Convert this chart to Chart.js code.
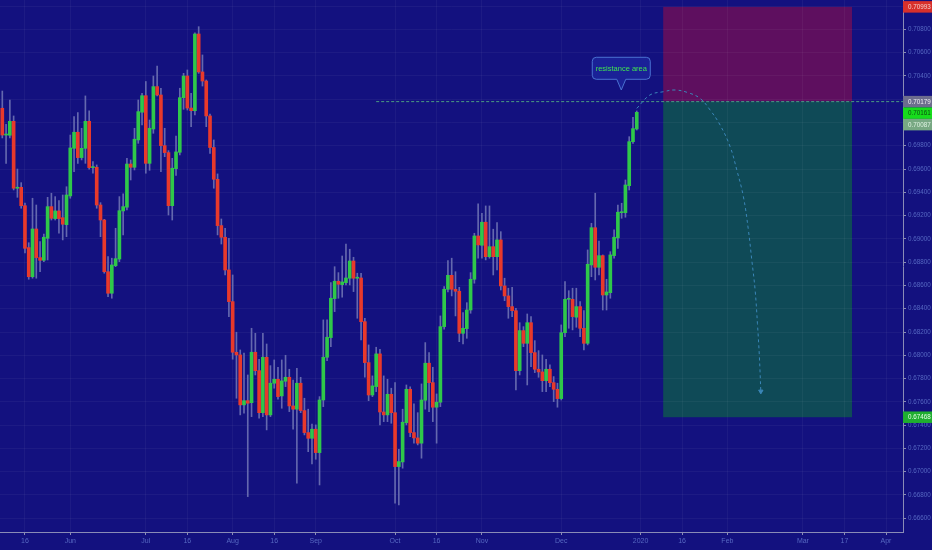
<!DOCTYPE html>
<html>
<head>
<meta charset="utf-8">
<script src="https://cdn.jsdelivr.net/npm/chart.js@4.4.1/dist/chart.umd.min.js"></script>
<style>
  html, body { margin: 0; padding: 0; background: #13117f; }
  #wrap { width: 932px; height: 550px; }
</style>
</head>
<body>
<div id="wrap"><canvas id="c" width="932" height="550"></canvas></div>
<script>
/* AUDUSD daily — candles + short setup, drawn on a linear bar-index axis (16 May 2019 = 0). */
const FIRST_BAR = -6;

const opens = [
  0.70122, 0.69892, 0.69890, 0.70010, 0.69435, 0.69443, 0.69285, 0.68925, 0.68675, 0.69085,
  0.68839, 0.68816, 0.69005, 0.69277, 0.69174, 0.69240, 0.69182, 0.69122, 0.69369, 0.69778,
  0.69916, 0.69698, 0.69778, 0.70010, 0.69612, 0.69615, 0.69291, 0.69162, 0.68718, 0.68533,
  0.68770, 0.68827, 0.69240, 0.69272, 0.69643, 0.69615, 0.69850, 0.70088, 0.70230, 0.69649,
  0.69944, 0.70308, 0.70236, 0.69801, 0.69741, 0.69285, 0.69603, 0.69744, 0.70213, 0.70399,
  0.70124, 0.70101, 0.70760, 0.70434, 0.70356, 0.70056, 0.69785, 0.69512, 0.69114, 0.69014,
  0.68733, 0.68461, 0.68026, 0.68003, 0.67574, 0.67610, 0.67593, 0.68026, 0.67868, 0.67507,
  0.67983, 0.67488, 0.67760, 0.67794, 0.67651, 0.67777, 0.67811, 0.67565, 0.67537, 0.67760,
  0.67525, 0.67336, 0.67287, 0.67365, 0.67164, 0.67616, 0.67983, 0.68152, 0.68487, 0.68636,
  0.68607, 0.68624, 0.68662, 0.68810, 0.68662, 0.68664, 0.68289, 0.67937, 0.67659, 0.67731,
  0.68012, 0.67513, 0.67488, 0.67665, 0.67507, 0.67044, 0.67084, 0.67421, 0.67708, 0.67336,
  0.67290, 0.67245, 0.67614, 0.67932, 0.67765, 0.67554, 0.67597, 0.68246, 0.68567, 0.68687,
  0.68567, 0.68550, 0.68189, 0.68229, 0.68389, 0.68653, 0.69025, 0.68945, 0.69143, 0.68847,
  0.68933, 0.68847, 0.68991, 0.68596, 0.68510, 0.68418, 0.68383, 0.67868, 0.68212, 0.68103,
  0.68280, 0.68023, 0.67880, 0.67857, 0.67782, 0.67880, 0.67765, 0.67708, 0.67628, 0.68194,
  0.68481, 0.68481, 0.68327, 0.68418, 0.68232, 0.68103, 0.68776, 0.69096, 0.68756, 0.68856,
  0.68518, 0.68538, 0.68856, 0.69008, 0.69225, 0.69225, 0.69457, 0.69835, 0.69944
];
const highs = [
  0.70270, 0.69984, 0.70193, 0.70056, 0.69600, 0.69483, 0.69308, 0.68967, 0.69349, 0.69291,
  0.68976, 0.69042, 0.69357, 0.69392, 0.69363, 0.69328, 0.69377, 0.69448, 0.69892, 0.70050,
  0.70084, 0.69950, 0.70228, 0.70099, 0.69663, 0.69635, 0.69311, 0.69168, 0.68847, 0.68834,
  0.69091, 0.69363, 0.69386, 0.69692, 0.69678, 0.69950, 0.70193, 0.70251, 0.70352, 0.70021,
  0.70399, 0.70485, 0.70294, 0.69950, 0.69758, 0.69692, 0.69884, 0.70294, 0.70422, 0.70451,
  0.70251, 0.70771, 0.70823, 0.70580, 0.70365, 0.70073, 0.69850, 0.69558, 0.69171, 0.69091,
  0.69005, 0.68690, 0.68198, 0.68046, 0.68018, 0.67831, 0.68232, 0.68189, 0.67966, 0.68189,
  0.68097, 0.67911, 0.67960, 0.67897, 0.67960, 0.68000, 0.67880, 0.67788, 0.67889, 0.67811,
  0.67631, 0.67537, 0.67410, 0.67402, 0.67645, 0.68304, 0.68304, 0.68624, 0.68761, 0.68710,
  0.68853, 0.68956, 0.68911, 0.68842, 0.68705, 0.68705, 0.68318, 0.68089, 0.67823, 0.68069,
  0.68052, 0.67823, 0.67794, 0.67717, 0.67765, 0.67193, 0.67537, 0.67745, 0.67728, 0.67582,
  0.67507, 0.67754, 0.68109, 0.68023, 0.67897, 0.67668, 0.68338, 0.68590, 0.68813, 0.68834,
  0.68718, 0.68584, 0.68366, 0.68452, 0.68710, 0.69048, 0.69300, 0.69220, 0.69283, 0.69283,
  0.69083, 0.69139, 0.69062, 0.68662, 0.68576, 0.68584, 0.68404, 0.68280, 0.68246, 0.68355,
  0.68332, 0.68126, 0.68040, 0.68003, 0.67966, 0.67917, 0.67817, 0.67760, 0.68261, 0.68633,
  0.68555, 0.68576, 0.68576, 0.68461, 0.68383, 0.68905, 0.69134, 0.69392, 0.68982, 0.68862,
  0.68653, 0.68890, 0.69077, 0.69291, 0.69306, 0.69506, 0.69878, 0.70045, 0.70099
];
const lows = [
  0.69867, 0.69649, 0.69867, 0.69420, 0.69357, 0.69263, 0.68879, 0.68653, 0.68662, 0.68662,
  0.68718, 0.68804, 0.68819, 0.69162, 0.69162, 0.69048, 0.68991, 0.69019, 0.69349, 0.69577,
  0.69649, 0.69678, 0.69649, 0.69598, 0.69564, 0.69263, 0.69019, 0.68705, 0.68504, 0.68490,
  0.68761, 0.68804, 0.69034, 0.69248, 0.69506, 0.69592, 0.69821, 0.69978, 0.69564, 0.69589,
  0.69907, 0.70228, 0.69577, 0.69706, 0.69205, 0.69162, 0.69546, 0.69721, 0.70113, 0.70107,
  0.69964, 0.70064, 0.70422, 0.70313, 0.69964, 0.69735, 0.69435, 0.69034, 0.68956, 0.68690,
  0.68332, 0.67966, 0.67631, 0.67488, 0.67502, 0.66786, 0.67473, 0.67831, 0.67459, 0.67473,
  0.67359, 0.67473, 0.67717, 0.67622, 0.67545, 0.67731, 0.67516, 0.67365, 0.66901, 0.67507,
  0.67316, 0.67172, 0.67067, 0.67107, 0.66886, 0.67559, 0.67954, 0.68074, 0.68375, 0.68490,
  0.68499, 0.68604, 0.68604, 0.68547, 0.68318, 0.68132, 0.67811, 0.67610, 0.67645, 0.67688,
  0.67402, 0.67430, 0.67430, 0.67416, 0.66729, 0.66715, 0.67030, 0.67402, 0.67301, 0.67245,
  0.67230, 0.67116, 0.67537, 0.67516, 0.67430, 0.67245, 0.67559, 0.68224, 0.68544, 0.68510,
  0.68338, 0.68117, 0.68097, 0.68146, 0.68361, 0.68619, 0.68834, 0.68834, 0.68819, 0.68834,
  0.68690, 0.68733, 0.68561, 0.68469, 0.68318, 0.68332, 0.67702, 0.67831, 0.68074, 0.67745,
  0.67902, 0.67851, 0.67811, 0.67688, 0.67688, 0.67731, 0.67602, 0.67554, 0.67616, 0.68160,
  0.68232, 0.68218, 0.68241, 0.68160, 0.68046, 0.68089, 0.68675, 0.68647, 0.68690, 0.68389,
  0.68389, 0.68490, 0.68834, 0.68919, 0.69177, 0.69186, 0.69420, 0.69821, 0.69935
];
const closes = [
  0.69892, 0.69897, 0.70010, 0.69435, 0.69443, 0.69285, 0.68919, 0.68675, 0.69085, 0.68839,
  0.68816, 0.69014, 0.69277, 0.69177, 0.69240, 0.69174, 0.69126, 0.69377, 0.69781, 0.69916,
  0.69698, 0.69778, 0.70010, 0.69612, 0.69618, 0.69291, 0.69162, 0.68718, 0.68533, 0.68776,
  0.68830, 0.69242, 0.69277, 0.69643, 0.69615, 0.69856, 0.70093, 0.70230, 0.69649, 0.69950,
  0.70308, 0.70236, 0.69801, 0.69741, 0.69285, 0.69607, 0.69747, 0.70213, 0.70399, 0.70124,
  0.70101, 0.70760, 0.70434, 0.70356, 0.70056, 0.69785, 0.69512, 0.69114, 0.69014, 0.68733,
  0.68461, 0.68026, 0.68003, 0.67574, 0.67610, 0.67588, 0.68026, 0.67868, 0.67507, 0.67983,
  0.67488, 0.67760, 0.67794, 0.67645, 0.67780, 0.67811, 0.67565, 0.67537, 0.67760, 0.67525,
  0.67336, 0.67287, 0.67365, 0.67164, 0.67616, 0.67983, 0.68155, 0.68490, 0.68636, 0.68610,
  0.68630, 0.68664, 0.68810, 0.68662, 0.68667, 0.68289, 0.67937, 0.67659, 0.67737, 0.68012,
  0.67513, 0.67488, 0.67665, 0.67507, 0.67044, 0.67087, 0.67425, 0.67708, 0.67336, 0.67290,
  0.67245, 0.67616, 0.67932, 0.67765, 0.67554, 0.67597, 0.68246, 0.68567, 0.68687, 0.68567,
  0.68550, 0.68189, 0.68232, 0.68389, 0.68653, 0.69025, 0.68948, 0.69143, 0.68847, 0.68933,
  0.68847, 0.68991, 0.68596, 0.68510, 0.68418, 0.68383, 0.67868, 0.68212, 0.68103, 0.68280,
  0.68023, 0.67880, 0.67857, 0.67782, 0.67880, 0.67765, 0.67708, 0.67628, 0.68194, 0.68481,
  0.68487, 0.68332, 0.68418, 0.68232, 0.68103, 0.68782, 0.69096, 0.68756, 0.68856, 0.68518,
  0.68544, 0.68862, 0.69014, 0.69229, 0.69231, 0.69463, 0.69835, 0.69947, 0.70087
];

// time axis: bar index of each label
const xTickPos    = [0, 12, 32, 43, 55, 66, 77, 98, 109, 121, 142, 163, 174, 186, 206, 217, 228];
const xTickLabels = ["16", "Jun", "Jul", "16", "Aug", "16", "Sep", "Oct", "16", "Nov", "Dec", "2020", "16", "Feb", "Mar", "17", "Apr"];
const X_MIN = -6.61, X_MAX = 232.5;

const yTickVals = [0.666, 0.668, 0.670, 0.672, 0.674, 0.676, 0.678, 0.680, 0.682, 0.684, 0.686, 0.688,
  0.690, 0.692, 0.694, 0.696, 0.698, 0.700, 0.702, 0.704, 0.706, 0.708, 0.710];
const yHidden = [0.700, 0.702, 0.710];   // covered by the price tags
const Y_MIN = 0.66482, Y_MAX = 0.71052;

// drawings
const resistance = 0.70179;
const resistFrom = 93;
const boxFrom = 169, boxTo = 219;
const stopPrice = 0.70993, targetPrice = 0.67468;
const arcX = [162.0, 165.5, 169.05, 172.15, 175.67, 178.77, 181.42, 184.07, 186.72, 188.49, 190.24, 191.56, 192.46, 193.34, 193.95, 194.47, 194.85];
const arcY = [0.70121, 0.70236, 0.70264, 0.70279, 0.70255, 0.70207, 0.70107, 0.69978, 0.69792, 0.69592, 0.69362, 0.69076, 0.68819, 0.68561, 0.68275, 0.67988, 0.67690];
const calloutAt = [157.9, 0.70279];
const calloutText = "resistance area";
const tagValues = [0.70993, 0.70179, 0.70161, 0.70087, 0.67468];

const COL = {
  bg: "#13117f", grid: "rgba(255,255,255,0.045)", axis: "#8a8cb6", text: "#5668c2",
  up: "#2fc84a", down: "#e8392b", wick: "#6468ae",
  stopZone: "#5e0f5f", targetZone: "#0f4a57",
  resist: "#4c9c82", arc: "#3a86b8",
  boxFill: "#1a2197", boxEdge: "#4a72d2", boxText: "#3fe352",
};
const TAG_COL = [
  { bg: "#d8302b", fg: "#f3d0cc" }, { bg: "#6d6d8e", fg: "#f0f0f4" }, { bg: "#17dc1c", fg: "#0b4d10" },
  { bg: "#78a883", fg: "#dff2e2" }, { bg: "#1fae30", fg: "#e6ffe8" },
];
const FONT = "'Liberation Sans',Arial,sans-serif";

const bars = opens.map((o, k) => FIRST_BAR + k);
const bodyCol = opens.map((o, k) => (closes[k] >= o ? COL.up : COL.down));

const drawingsUnder = {
  id: "drawingsUnder",
  beforeDraw(chart) {
    const { ctx, scales: { x, y } } = chart;
    ctx.save();
    ctx.fillStyle = COL.bg;
    ctx.fillRect(0, 0, chart.width, chart.height);
    const x0 = x.getPixelForValue(boxFrom), x1 = x.getPixelForValue(boxTo);
    const yS = y.getPixelForValue(stopPrice), yE = y.getPixelForValue(resistance), yT = y.getPixelForValue(targetPrice);
    ctx.fillStyle = COL.stopZone;
    ctx.fillRect(x0, yS, x1 - x0, yE - yS);
    ctx.fillStyle = COL.targetZone;
    ctx.fillRect(x0, yE, x1 - x0, yT - yE);
    ctx.restore();
  },
};

const drawingsOver = {
  id: "drawingsOver",
  afterDraw(chart) {
    const { ctx, chartArea: a, scales: { x, y } } = chart;
    ctx.save();
    // callout
    const tx = x.getPixelForValue(calloutAt[0]), ty = y.getPixelForValue(calloutAt[1]);
    const w = 58, h = 22, r = 4, bx = tx - w / 2, by = ty - 10.7 - h;
    ctx.beginPath();
    ctx.moveTo(bx + r, by);
    ctx.lineTo(bx + w - r, by);
    ctx.arcTo(bx + w, by, bx + w, by + r, r);
    ctx.lineTo(bx + w, by + h - r);
    ctx.arcTo(bx + w, by + h, bx + w - r, by + h, r);
    ctx.lineTo(tx + 4.5, by + h);
    ctx.lineTo(tx, ty);
    ctx.lineTo(tx - 4.5, by + h);
    ctx.lineTo(bx + r, by + h);
    ctx.arcTo(bx, by + h, bx, by + h - r, r);
    ctx.lineTo(bx, by + r);
    ctx.arcTo(bx, by, bx + r, by, r);
    ctx.closePath();
    ctx.fillStyle = COL.boxFill;
    ctx.fill();
    ctx.strokeStyle = COL.boxEdge;
    ctx.lineWidth = 1;
    ctx.stroke();
    ctx.fillStyle = COL.boxText;
    ctx.font = "7.5px " + FONT;
    ctx.textAlign = "center";
    ctx.textBaseline = "middle";
    ctx.fillText(calloutText, tx, by + h / 2 + 0.5);

    // price tags on the right scale, pushed apart like the terminal does
    const th = 11.5;
    let lastBottom = -Infinity;
    tagValues.forEach((v, i) => {
      let cy = y.getPixelForValue(v);
      if (cy - th / 2 < lastBottom) cy = lastBottom + th / 2;
      lastBottom = cy + th / 2;
      ctx.fillStyle = TAG_COL[i].bg;
      ctx.fillRect(a.right, cy - th / 2, chart.width - a.right, th);
      ctx.fillStyle = TAG_COL[i].fg;
      ctx.textAlign = "left";
      ctx.font = "6.3px " + FONT;
      ctx.fillText(v.toFixed(5), a.right + 5, cy + 0.5);
    });
    ctx.restore();
  },
};

new Chart(document.getElementById("c"), {
  type: "bar",
  data: {
    datasets: [
      {
        label: "arc", type: "line", order: 0,
        data: arcX.map((v, i) => ({ x: v, y: arcY[i] })),
        borderColor: COL.arc, borderWidth: 1, borderDash: [3, 3], tension: 0.4, fill: false,
        pointRadius: arcX.map((v, i) => (i === arcX.length - 1 ? 2.5 : 0)),
        pointHoverRadius: 0, pointStyle: "triangle", rotation: 180,
        pointBackgroundColor: COL.arc, pointBorderColor: COL.arc,
      },
      {
        label: "resistance", type: "line", order: 0,
        data: [{ x: resistFrom, y: resistance }, { x: X_MAX, y: resistance }],
        borderColor: COL.resist, borderWidth: 1, borderDash: [3, 2], pointRadius: 0, pointHoverRadius: 0, fill: false,
      },
      {
        label: "body", order: 1,
        data: bars.map((b, k) => ({ x: b, y: [opens[k], closes[k]] })),
        backgroundColor: bodyCol, barThickness: 3, minBarLength: 1, grouped: false,
      },
      {
        label: "wick", order: 2,
        data: bars.map((b, k) => ({ x: b, y: [lows[k], highs[k]] })),
        backgroundColor: COL.wick, barThickness: 1, grouped: false,
      },
    ],
  },
  options: {
    responsive: false, animation: false, devicePixelRatio: 1,
    layout: { padding: 0, autoPadding: false },
    plugins: { legend: { display: false }, tooltip: { enabled: false } },
    scales: {
      x: {
        type: "linear", position: "bottom", min: X_MIN, max: X_MAX, offset: false, bounds: "data",
        afterBuildTicks: (s) => { s.ticks = xTickPos.map((v) => ({ value: v })); },
        afterFit: (s) => { s.height = 18; s.paddingLeft = 0; s.paddingRight = 0; },
        grid: { color: COL.grid, offset: false, drawTicks: true, tickLength: 3, tickColor: COL.axis },
        border: { display: true, color: COL.axis, width: 1 },
        ticks: { color: COL.text, font: { family: FONT, size: 7 }, padding: 2, maxRotation: 0, autoSkip: false,
          callback: (v, i) => xTickLabels[i] },
      },
      y: {
        type: "linear", position: "right", min: Y_MIN, max: Y_MAX, bounds: "data",
        afterBuildTicks: (s) => { s.ticks = yTickVals.map((v) => ({ value: v })); },
        afterFit: (s) => { s.width = 29; s.paddingTop = 0; s.paddingBottom = 0; },
        grid: { color: COL.grid, drawTicks: true, tickLength: 3, tickColor: COL.axis },
        border: { display: true, color: COL.axis, width: 1 },
        ticks: { color: COL.text, font: { family: FONT, size: 6.3 }, padding: 2, autoSkip: false,
          callback: (v) => (yHidden.some((h) => Math.abs(h - v) < 1e-9) ? "" : Number(v).toFixed(5)) },
      },
    },
  },
  plugins: [drawingsUnder, drawingsOver],
});
</script>
</body>
</html>
